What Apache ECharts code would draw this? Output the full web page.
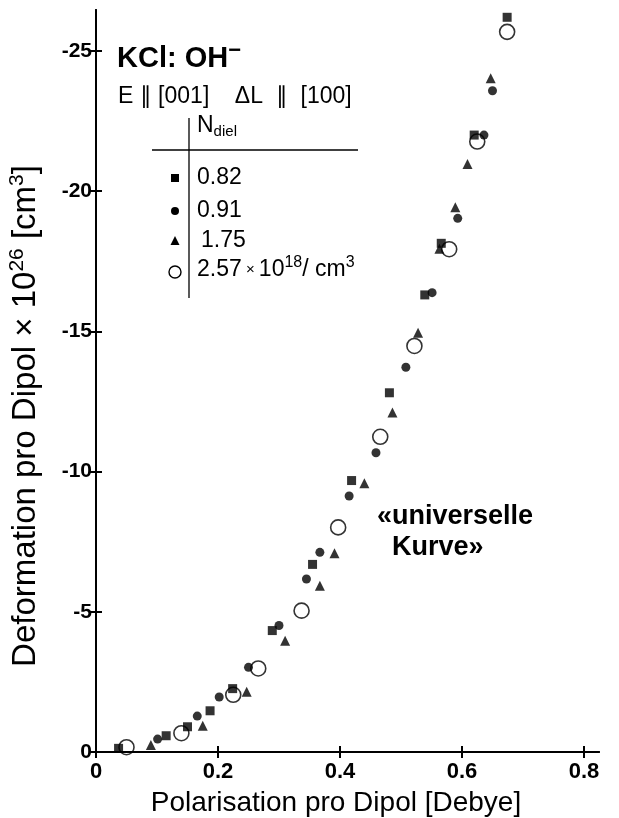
<!DOCTYPE html>
<html><head><meta charset="utf-8">
<script src="https://cdn.jsdelivr.net/npm/echarts@6/dist/echarts.min.js"></script>
<style>html,body{margin:0;padding:0;background:#fff}#c{width:619px;height:818px}</style>
</head><body><div id="c"></div>
<script>
// N_diel = 0.82 (filled squares)
const sqX = [0.037, 0.115, 0.150, 0.187, 0.224, 0.289, 0.355, 0.419, 0.481, 0.539, 0.566, 0.620, 0.674];
const sqY = [-0.13, -0.58, -0.90, -1.47, -2.26, -4.33, -6.69, -9.68, -12.81, -16.30, -18.14, -22.0, -26.2];
// N_diel = 0.91 (filled circles)
const ciX = [0.101, 0.166, 0.202, 0.250, 0.300, 0.345, 0.367, 0.415, 0.459, 0.508, 0.551, 0.593, 0.636, 0.650];
const ciY = [-0.46, -1.28, -1.96, -3.02, -4.51, -6.17, -7.12, -9.13, -10.67, -13.72, -16.38, -19.03, -22.0, -23.58];
// N_diel = 1.75 (filled triangles)
const trX = [0.090, 0.175, 0.247, 0.310, 0.367, 0.391, 0.440, 0.486, 0.528, 0.563, 0.589, 0.609, 0.647];
const trY = [-0.25, -0.94, -2.15, -3.97, -5.93, -7.09, -9.58, -12.11, -14.95, -17.95, -19.43, -20.97, -24.03];
// N_diel = 2.57e18 (open circles)
const ocX = [0.050, 0.140, 0.225, 0.266, 0.337, 0.397, 0.466, 0.522, 0.579, 0.625, 0.674];
const ocY = [-0.17, -0.67, -2.04, -2.98, -5.04, -8.01, -11.24, -14.48, -17.93, -21.77, -25.68];

const xTicks = [0, 0.2, 0.4, 0.6, 0.8];
const yTicks = [-25, -20, -15, -10, -5, 0];
const legendLabels = ['0.82', '0.91', '1.75', '2.57'];

const pairs = (xs, ys) => xs.map((x, i) => [x, ys[i]]);
const FONT = '"Liberation Sans", Arial, Helvetica, sans-serif';
const chart = echarts.init(document.getElementById('c'), null, {renderer: 'canvas'});

const axisLine = {show: true, lineStyle: {color: '#000', width: 2}};
const tick = {show: true, inside: false, length: 6, lineStyle: {color: '#000', width: 2}};

const option = {
  backgroundColor: '#fff',
  animation: false,
  grid: {left: 96, right: 20, top: 10, bottom: 66, containLabel: false},
  xAxis: [
    {type: 'value', position: 'bottom', min: 0, max: 0.8246,
     axisLine, axisTick: Object.assign({customValues: xTicks}, tick), splitLine: {show: false},
     axisLabel: {customValues: xTicks, color: '#000', fontFamily: FONT, fontWeight: 'bold', fontSize: 22, margin: 9,
       formatter: v => (v === 0 ? '0' : String(v))}},
    {type: 'value', position: 'top', min: 0, max: 0.8246,
     axisLine, axisTick: Object.assign({customValues: xTicks}, tick), axisLabel: {show: false}, splitLine: {show: false}}
  ],
  yAxis: [
    {type: 'value', position: 'left', inverse: true, min: -26.46, max: 0,
     axisLine, axisTick: Object.assign({customValues: yTicks}, tick), splitLine: {show: false},
     axisLabel: {customValues: yTicks, color: '#000', fontFamily: FONT, fontWeight: 'bold', fontSize: 21, margin: 4}},
    {type: 'value', position: 'right', inverse: true, min: -26.46, max: 0,
     axisLine, axisTick: Object.assign({customValues: yTicks}, tick), axisLabel: {show: false}, splitLine: {show: false}}
  ],
  series: [
    {name: legendLabels[0], type: 'scatter', data: pairs(sqX, sqY), symbol: 'rect', symbolSize: 9,
     itemStyle: {color: '#000'}, z: 3},
    {name: legendLabels[1], type: 'scatter', data: pairs(ciX, ciY), symbol: 'circle', symbolSize: 9,
     itemStyle: {color: '#000'}, z: 3},
    {name: legendLabels[2], type: 'scatter', data: pairs(trX, trY), symbol: 'triangle', symbolSize: 10,
     itemStyle: {color: '#000'}, z: 3},
    {name: legendLabels[3], type: 'scatter', data: pairs(ocX, ocY), symbol: 'circle', symbolSize: 15,
     itemStyle: {color: 'rgba(255,255,255,0)', borderColor: '#000', borderWidth: 1.6}, z: 4}
  ],
  graphic: [
    // axis titles
    {type: 'text', x: 336, y: 803, style: {
      text: 'Polarisation pro Dipol [Debye]', fontFamily: FONT, fontSize: 28, fill: '#000',
      textAlign: 'center', textVerticalAlign: 'middle'}},
    {type: 'text', x: 26, y: 416, rotation: Math.PI / 2, style: {
      text: '{n|Deformation pro Dipol × 10}{s|26}{n| [cm}{s|3}{n|]}',
      textAlign: 'center', textVerticalAlign: 'middle',
      rich: {n: {fontFamily: FONT, fontSize: 33, fill: '#000'},
             s: {fontFamily: FONT, fontSize: 21, fill: '#000', padding: [0, 0, 17, 0]}}}},
    // annotations
    {type: 'text', left: 117, top: 40, style: {
      text: '{b|KCl: OH}{m|−}',
      rich: {b: {fontFamily: FONT, fontWeight: 'bold', fontSize: 29, fill: '#000'},
             m: {fontFamily: FONT, fontWeight: 'bold', fontSize: 22, fill: '#000', padding: [0, 0, 16, 0]}}}},
    {type: 'text', left: 118, top: 85, style: {
      text: 'E ∥ [001]    ΔL  ∥  [100]', fontFamily: FONT, fontSize: 23, fill: '#000'}},
    {type: 'text', left: 197, top: 114, style: {
      text: '{n|N}{d|diel}',
      rich: {n: {fontFamily: FONT, fontSize: 23, fill: '#000'},
             d: {fontFamily: FONT, fontSize: 15, fill: '#000', padding: [12, 0, 0, 0]}}}},
    {type: 'line', shape: {x1: 189, y1: 118, x2: 189, y2: 298}, style: {stroke: '#000', lineWidth: 1.3}},
    {type: 'line', shape: {x1: 152, y1: 150, x2: 358, y2: 150}, style: {stroke: '#000', lineWidth: 1.3}},
    // legend keys
    {type: 'rect', shape: {x: 171, y: 174, width: 8, height: 8}, style: {fill: '#000'}},
    {type: 'circle', shape: {cx: 175, cy: 211, r: 4}, style: {fill: '#000'}},
    {type: 'polygon', shape: {points: [[175, 236], [179.5, 245], [170.5, 245]]}, style: {fill: '#000'}},
    {type: 'circle', shape: {cx: 175, cy: 272, r: 6}, style: {fill: 'none', stroke: '#000', lineWidth: 1.4}},
    {type: 'text', left: 197, top: 166, style: {text: legendLabels[0], fontFamily: FONT, fontSize: 23, fill: '#000'}},
    {type: 'text', left: 197, top: 199, style: {text: legendLabels[1], fontFamily: FONT, fontSize: 23, fill: '#000'}},
    {type: 'text', left: 201, top: 229, style: {text: legendLabels[2], fontFamily: FONT, fontSize: 23, fill: '#000'}},
    {type: 'text', left: 197, top: 255, style: {
      text: '{n|' + legendLabels[3] + '}{x| × }{n|10}{s|18}{n|/ cm}{s|3}',
      rich: {n: {fontFamily: FONT, fontSize: 23, fill: '#000'},
             x: {fontFamily: FONT, fontSize: 15, fill: '#000'},
             s: {fontFamily: FONT, fontSize: 16, fill: '#000', padding: [0, 0, 13, 0]}}}},
    {type: 'text', left: 377, top: 503, style: {
      text: '«universelle', fontFamily: FONT, fontWeight: 'bold', fontSize: 27, fill: '#000'}},
    {type: 'text', left: 392, top: 534, style: {
      text: 'Kurve»', fontFamily: FONT, fontWeight: 'bold', fontSize: 27, fill: '#000'}}
  ]
};
chart.setOption(option);
</script>
</body></html>
